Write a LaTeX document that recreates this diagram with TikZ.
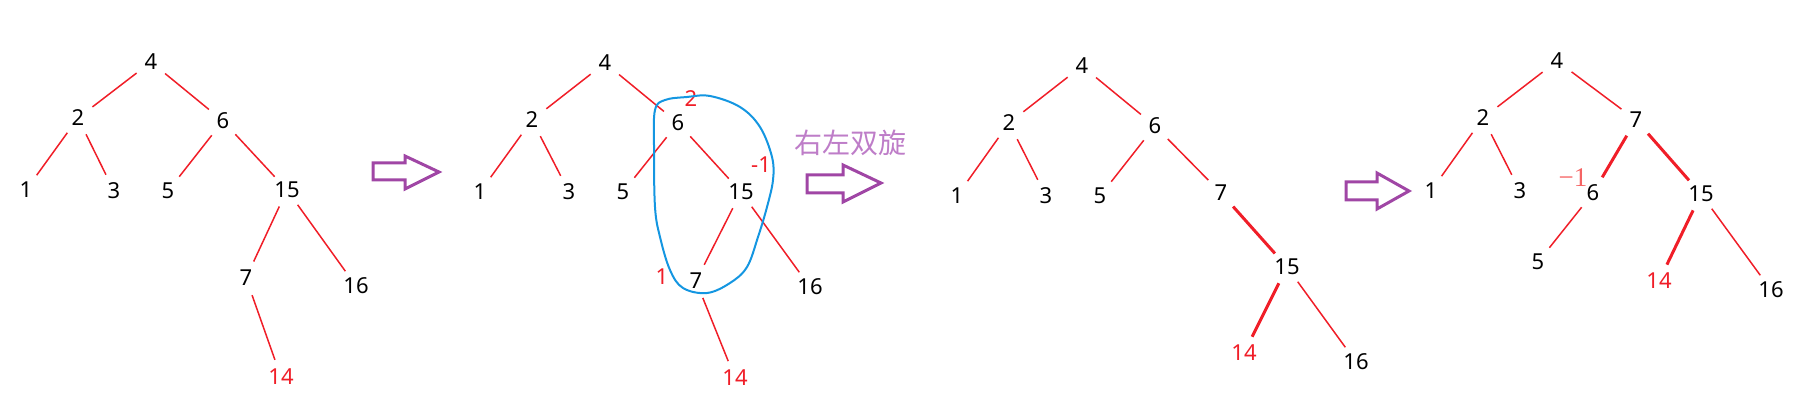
\documentclass[tikz,border=0pt]{standalone}
\usepackage{fontspec}
\setmainfont{Noto Sans}
\newfontfamily\cjkfont{Noto Sans CJK SC}
\newfontfamily\serifnum{Liberation Serif}

\definecolor{edgered}{RGB}{240,30,40}
\definecolor{arrowpurple}{RGB}{160,70,165}
\definecolor{textpurple}{RGB}{190,125,200}
\definecolor{loopblue}{RGB}{20,150,225}
\definecolor{softred}{RGB}{245,100,100}

\begin{document}
\begin{tikzpicture}[x=1pt,y=-1pt,
    num/.style={circle,minimum size=36pt,inner sep=0pt,font=\fontsize{22}{24}\selectfont},
    edge/.style={edgered,line width=1.5pt},
    boldedge/.style={edgered,line width=3pt},
    bal/.style={edgered,font=\fontsize{22}{24}\selectfont},
    fatarrow/.style={arrowpurple,line width=3pt,line join=miter}]

\useasboundingbox (0,0) rectangle (1800,414);

\node[num] (a4) at (151,62) {4};
    \node[num] (a2) at (78,118) {2};
    \node[num] (a6) at (223,121) {6};
    \node[num] (a1) at (26,190) {1};
    \node[num] (a3) at (114,191) {3};
    \node[num] (a5) at (168,191) {5};
    \node[num] (a15) at (287,190) {15};
    \node[num] (a7) at (246,278) {7};
    \node[num] (a16) at (356,286) {16};
    \node[num, edgered] (a14) at (281,377) {14};
\draw[edge] (a4)--(a2) (a4)--(a6) (a2)--(a1) (a2)--(a3) (a6)--(a5) (a6)--(a15)
    (a15)--(a7) (a15)--(a16) (a7)--(a14);

\draw[fatarrow] (373,163)--(405,163)--(405,156)--(439,172)--(405,189)--(405,180)--(373,180)--cycle;

\node[num] (b4) at (605,63) {4};
    \node[num] (b2) at (532,120) {2};
    \node[num] (b6) at (678,123) {6};
    \node[num] (b1) at (480,192) {1};
    \node[num] (b3) at (569,192) {3};
    \node[num] (b5) at (623,192) {5};
    \node[num] (b15) at (741,192) {15};
    \node[num] (b7) at (696,281) {7};
    \node[num] (b16) at (810,287) {16};
    \node[num, edgered] (b14) at (735,378) {14};
\draw[edge] (b4)--(b2) (b4)--(b6) (b2)--(b1) (b2)--(b3) (b6)--(b5) (b6)--(b15)
    (b15)--(b7) (b15)--(b16) (b7)--(b14);

\node[bal] (b6bf) at (691,99) {2};
    \node[bal] (b15bf) at (761,165) {-1};
    \node[bal] (b7bf) at (662,277) {1};

\draw[loopblue, line width=2pt] plot[smooth cycle, tension=0.6] coordinates {(687,97) (710,96) (740,107) (760,127) (772,157) (773,180) (767,207) (758,237) (747,267) (730,283) (707,293) (683,288) (670,270) (660,237) (655,207) (654,147) (655,110) (665,100)};

\node[textpurple, font=\cjkfont\fontsize{28}{30}\selectfont] (rlrot) at (850,143) {右左双旋};
\draw[fatarrow] (807,175)--(843,175)--(843,165)--(881,183)--(843,202)--(843,193)--(807,193)--cycle;

\node[num] (c4) at (1082,66) {4};
    \node[num] (c2) at (1009,123) {2};
    \node[num] (c6) at (1155,126) {6};
    \node[num] (c1) at (957,196) {1};
    \node[num] (c3) at (1046,196) {3};
    \node[num] (c5) at (1100,196) {5};
    \node[num] (c7) at (1221,193) {7};
    \node[num] (c15) at (1287,267) {15};
    \node[num, edgered] (c14) at (1244,353) {14};
    \node[num] (c16) at (1356,362) {16};
\draw[edge] (c4)--(c2) (c4)--(c6) (c2)--(c1) (c2)--(c3) (c6)--(c5) (c6)--(c7) (c15)--(c16);
\draw[boldedge] (c7)--(c15) (c15)--(c14);

\draw[fatarrow] (1346,182)--(1377,182)--(1377,173)--(1409,191)--(1377,209)--(1377,200)--(1346,200)--cycle;

\node[num] (d4) at (1557,61) {4};
    \node[num] (d2) at (1483,118) {2};
    \node[num] (d7) at (1636,120) {7};
    \node[num] (d1) at (1431,191) {1};
    \node[num] (d3) at (1520,191) {3};
    \node[num] (d6) at (1593,193) {6};
    \node[num] (d15) at (1701,194) {15};
    \node[num] (d5) at (1538,262) {5};
    \node[num, edgered] (d14) at (1659,281) {14};
    \node[num] (d16) at (1771,290) {16};
\draw[edge] (d4)--(d2) (d4)--(d7) (d2)--(d1) (d2)--(d3) (d6)--(d5) (d15)--(d16);
\draw[boldedge] (d7)--(d6) (d7)--(d15) (d15)--(d14);

\node[softred, font=\serifnum\fontsize{27}{30}\selectfont] (d6bf) at (1573,178) {−1};

\end{tikzpicture}
\end{document}
